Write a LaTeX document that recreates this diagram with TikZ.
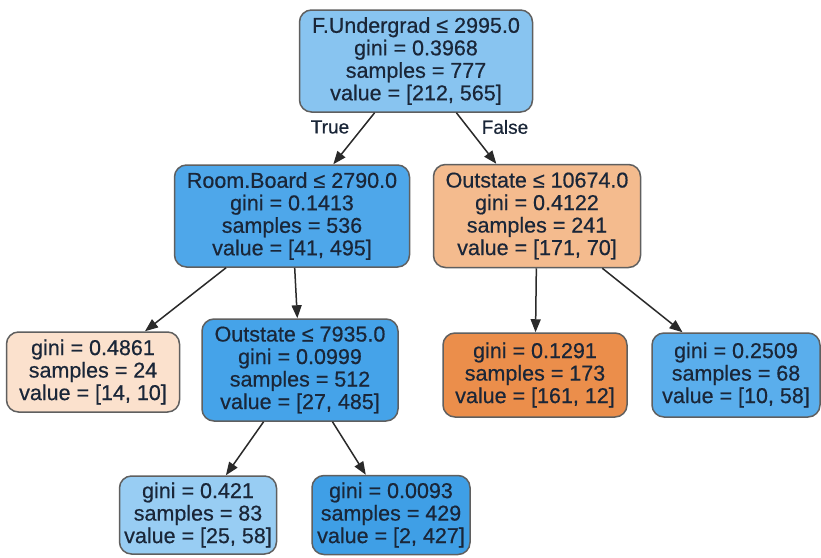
\documentclass[tikz,border=0pt]{standalone}
\usepackage{fontspec}
\setmainfont{Liberation Sans}[FakeBold=0.5]
\usetikzlibrary{arrows.meta}
\definecolor{cRoot}{HTML}{88C4F0}
\definecolor{cRB}{HTML}{4EA7EA}
\definecolor{cOA}{HTML}{F4BB8E}
\definecolor{cLA}{HTML}{FBE1CD}
\definecolor{cOB}{HTML}{45A3E9}
\definecolor{cLB}{HTML}{EB8E4B}
\definecolor{cLC}{HTML}{5AAEEC}
\definecolor{cLD}{HTML}{98CDF3}
\definecolor{cLE}{HTML}{3F9FE6}
\definecolor{txt}{HTML}{1A2638}
\definecolor{edge}{HTML}{2A2A2A}
\tikzset{
  treenode/.style={draw=edge!75, line width=1.5pt, rounded corners=12pt, align=center,
    inner sep=0pt, text=txt, font=\fontsize{21.5}{22.5}\selectfont},
  conn/.style={draw=edge, line width=1.5pt, -{Triangle[length=13pt,width=10pt]}},
  elabel/.style={text=txt, font=\fontsize{19}{20}\selectfont}
}
\begin{document}
\begin{tikzpicture}[x=1pt,y=-1pt]
\useasboundingbox (0,0) rectangle (821,557);
\fill[white] (0,0) rectangle (821,557);
\node[treenode, fill=cRoot, minimum width=233pt, minimum height=102pt] (root) at (416,61)
  {F.Undergrad ≤ 2995.0\\gini = 0.3968\\samples = 777\\value = [212, 565]};
\node[treenode, fill=cRB, minimum width=235pt, minimum height=102pt] (rb) at (292,216)
  {Room.Board ≤ 2790.0\\gini = 0.1413\\samples = 536\\value = [41, 495]};
\node[treenode, fill=cOA, minimum width=207pt, minimum height=103pt] (oa) at (537,216)
  {Outstate ≤ 10674.0\\gini = 0.4122\\samples = 241\\value = [171, 70]};
\node[treenode, fill=cLA, minimum width=173pt, minimum height=80pt] (la) at (93,372)
  {gini = 0.4861\\samples = 24\\value = [14, 10]};
\node[treenode, fill=cOB, minimum width=196pt, minimum height=102pt] (ob) at (300,370)
  {Outstate ≤ 7935.0\\gini = 0.0999\\samples = 512\\value = [27, 485]};
\node[treenode, fill=cLB, minimum width=184pt, minimum height=84pt] (lb) at (535,375)
  {gini = 0.1291\\samples = 173\\value = [161, 12]};
\node[treenode, fill=cLC, minimum width=168pt, minimum height=84pt] (lc) at (736,375)
  {gini = 0.2509\\samples = 68\\value = [10, 58]};
\node[treenode, fill=cLD, minimum width=157pt, minimum height=78pt] (ld) at (198,515)
  {gini = 0.421\\samples = 83\\value = [25, 58]};
\node[treenode, fill=cLE, minimum width=158pt, minimum height=79pt] (le) at (391,515)
  {gini = 0.0093\\samples = 429\\value = [2, 427]};
\draw[conn] (root) -- (rb);
\draw[conn] (root) -- (oa);
\draw[conn] (rb) -- (la);
\draw[conn] (rb) -- (ob);
\draw[conn] (oa) -- (lb);
\draw[conn] (oa) -- (lc);
\draw[conn] (ob) -- (ld);
\draw[conn] (ob) -- (le);
\node[elabel] (ltrue) at (330,127) {True};
\node[elabel] (lfalse) at (505,127) {False};
\end{tikzpicture}
\end{document}
